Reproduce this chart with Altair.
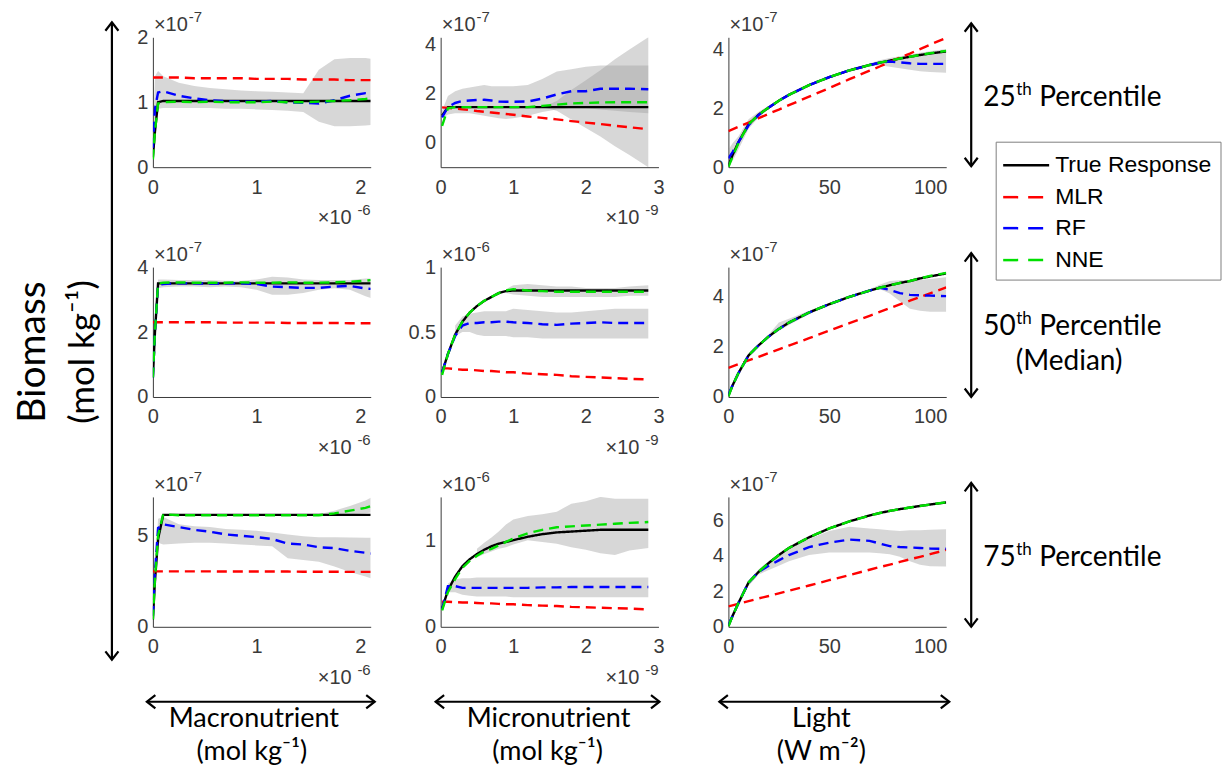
import altair as alt
import pandas as pd

SERIES = ["True Response", "MLR", "RF", "NNE"]
SERIES_COLORS = ["#000000", "#ff0000", "#0000ff", "#00e000"]
SERIES_DASH = [[1, 0], [10, 6], [10, 6], [10, 6]]

# ---------------- x grids ----------------
MACRO_X = [0, 0.02, 0.05, 0.1, 0.25, 0.4, 0.55, 0.7, 0.85, 1.0, 1.15, 1.3, 1.45, 1.6, 1.75, 1.9, 2.05, 2.1]
MICRO_X = [0.02, 0.1, 0.2, 0.3, 0.4, 0.5, 0.6, 0.7, 0.8, 0.9, 1.0, 1.2, 1.4, 1.6, 1.8, 2.0, 2.2, 2.4, 2.6, 2.86]
LIGHT_X = [0, 2, 5, 10, 15, 20, 25, 30, 40, 50, 60, 70, 75, 80, 85, 90, 95, 100, 108]

# ---------------- Macronutrient (x 1e-6), biomass x 1e-7 ----------------
M25_TRUE = [0.15, 0.55, 1.0, 1.02, 1.02, 1.02, 1.02, 1.02, 1.02, 1.02, 1.02, 1.02, 1.02, 1.02, 1.02, 1.02, 1.02, 1.02]
M25_MLR = [1.38, 1.38, 1.38, 1.38, 1.38, 1.37, 1.37, 1.37, 1.37, 1.36, 1.36, 1.36, 1.35, 1.35, 1.35, 1.34, 1.34, 1.34]
M25_RF = [0.3, 0.9, 1.15, 1.17, 1.1, 1.06, 1.03, 1.02, 1.01, 1.01, 1.02, 1.0, 0.99, 0.98, 1.03, 1.1, 1.14, 1.14]
M25_NNE = [0.12, 0.55, 0.98, 1.0, 1.01, 1.0, 1.01, 1.0, 1.0, 1.0, 1.01, 1.0, 1.0, 1.01, 1.02, 1.03, 1.05, 1.06]
M25_LO = [0.1, 0.5, 0.9, 0.91, 0.91, 0.91, 0.91, 0.9, 0.9, 0.89, 0.88, 0.87, 0.85, 0.7, 0.63, 0.63, 0.64, 0.65]
M25_HI = [0.4, 1.4, 1.48, 1.4, 1.3, 1.25, 1.22, 1.2, 1.18, 1.17, 1.16, 1.15, 1.14, 1.5, 1.66, 1.68, 1.68, 1.67]

M50_TRUE = [0.6, 2.0, 3.5, 3.5, 3.5, 3.5, 3.5, 3.5, 3.5, 3.5, 3.5, 3.5, 3.5, 3.5, 3.5, 3.5, 3.5, 3.5]
M50_MLR = [2.3, 2.3, 2.3, 2.3, 2.3, 2.3, 2.3, 2.29, 2.29, 2.29, 2.29, 2.28, 2.28, 2.28, 2.28, 2.27, 2.27, 2.27]
M50_RF = [0.6, 2.0, 3.45, 3.48, 3.5, 3.5, 3.49, 3.5, 3.5, 3.48, 3.4, 3.38, 3.36, 3.36, 3.4, 3.42, 3.34, 3.33]
M50_NNE = [0.6, 2.0, 3.5, 3.52, 3.53, 3.52, 3.52, 3.52, 3.53, 3.52, 3.52, 3.53, 3.52, 3.52, 3.53, 3.55, 3.58, 3.6]
M50_LO = [0.6, 2.0, 3.35, 3.38, 3.4, 3.4, 3.38, 3.4, 3.38, 3.3, 3.15, 3.15, 3.2, 3.3, 3.35, 3.3, 3.1, 3.05]
M50_HI = [0.6, 2.0, 3.62, 3.62, 3.6, 3.6, 3.6, 3.58, 3.58, 3.62, 3.7, 3.68, 3.62, 3.6, 3.6, 3.6, 3.65, 3.65]

M75_TRUE = [0.4, 2.5, 4.8, 6.12, 6.12, 6.12, 6.12, 6.12, 6.12, 6.12, 6.12, 6.12, 6.12, 6.12, 6.12, 6.12, 6.12, 6.12]
M75_MLR = [3.03, 3.03, 3.03, 3.03, 3.03, 3.03, 3.03, 3.02, 3.02, 3.02, 3.02, 3.02, 3.01, 3.01, 3.01, 3.0, 3.0, 3.0]
M75_RF = [0.6, 3.0, 5.4, 5.6, 5.45, 5.3, 5.2, 5.05, 4.98, 4.9, 4.8, 4.55, 4.5, 4.35, 4.3, 4.15, 4.05, 4.0]
M75_NNE = [0.4, 2.6, 5.0, 6.15, 6.1, 6.1, 6.1, 6.1, 6.1, 6.1, 6.1, 6.1, 6.1, 6.1, 6.2, 6.35, 6.5, 6.6]
M75_LO = [0.4, 2.5, 4.6, 4.5, 4.55, 4.6, 4.6, 4.55, 4.5, 4.45, 4.4, 3.75, 3.65, 3.55, 3.3, 3.0, 2.75, 2.65]
M75_HI = [0.6, 3.0, 5.9, 6.0, 5.6, 5.5, 5.45, 5.35, 5.3, 5.25, 5.15, 5.05, 4.95, 4.9, 4.9, 4.88, 4.87, 4.87]
M75_LO2 = [None, None, None, None, None, None, None, None, None, None, None, None, 6.1, 6.1, 6.12, 6.15, 6.2, 6.25]
M75_HI2 = [None, None, None, None, None, None, None, None, None, None, None, None, 6.1, 6.15, 6.35, 6.6, 6.9, 7.05]

# ---------------- Micronutrient (x 1e-9) ----------------
U25_TRUE = [1.1, 1.45, 1.45, 1.45, 1.45, 1.45, 1.45, 1.45, 1.45, 1.45, 1.45, 1.45, 1.45, 1.45, 1.45, 1.45, 1.45, 1.45, 1.45, 1.45]
U25_MLR = [1.44, 1.42, 1.39, 1.36, 1.33, 1.29, 1.26, 1.23, 1.2, 1.17, 1.14, 1.07, 1.01, 0.95, 0.88, 0.82, 0.76, 0.69, 0.63, 0.55]
U25_RF = [1.03, 1.45, 1.62, 1.7, 1.72, 1.74, 1.75, 1.72, 1.68, 1.67, 1.67, 1.68, 1.8, 1.97, 2.1, 2.1, 2.2, 2.2, 2.2, 2.18]
U25_NNE = [0.69, 1.4, 1.45, 1.45, 1.45, 1.45, 1.45, 1.45, 1.45, 1.45, 1.45, 1.45, 1.5, 1.55, 1.6, 1.62, 1.64, 1.65, 1.65, 1.65]
U25_LO = [1.0, 1.15, 1.2, 1.2, 1.2, 1.15, 1.1, 1.05, 1.0, 0.97, 1.0, 1.1, 1.25, 1.35, 1.4, 1.4, 1.35, 1.3, 1.25, 1.2]
U25_HI = [1.3, 1.9, 2.1, 2.2, 2.25, 2.3, 2.35, 2.3, 2.3, 2.3, 2.3, 2.35, 2.6, 2.9, 3.0, 3.1, 3.15, 3.15, 3.15, 3.15]
U25_LO2 = [None, None, None, None, None, None, None, None, None, None, None, None, 1.45, 1.3, 0.95, 0.6, 0.25, -0.15, -0.5, -1.0]
U25_HI2 = [None, None, None, None, None, None, None, None, None, None, None, None, 1.45, 1.7, 2.15, 2.55, 2.95, 3.4, 3.8, 4.3]

U50_TRUE = [0.19, 0.33, 0.48, 0.58, 0.65, 0.7, 0.74, 0.77, 0.8, 0.815, 0.82, 0.82, 0.82, 0.82, 0.82, 0.82, 0.82, 0.82, 0.82, 0.82]
U50_MLR = [0.22, 0.22, 0.215, 0.21, 0.21, 0.205, 0.2, 0.2, 0.195, 0.19, 0.19, 0.18, 0.175, 0.17, 0.16, 0.155, 0.15, 0.145, 0.14, 0.135]
U50_RF = [0.19, 0.33, 0.47, 0.55, 0.57, 0.57, 0.575, 0.575, 0.58, 0.58, 0.575, 0.57, 0.56, 0.555, 0.565, 0.57, 0.575, 0.57, 0.57, 0.57]
U50_NNE = [0.17, 0.33, 0.48, 0.58, 0.65, 0.7, 0.74, 0.77, 0.8, 0.82, 0.83, 0.82, 0.815, 0.81, 0.81, 0.81, 0.81, 0.81, 0.81, 0.81]
U50_LO = [None, None, 0.47, 0.5, 0.5, 0.48, 0.47, 0.47, 0.47, 0.47, 0.46, 0.46, 0.45, 0.45, 0.45, 0.45, 0.45, 0.45, 0.45, 0.45]
U50_HI = [None, None, 0.55, 0.62, 0.64, 0.65, 0.66, 0.66, 0.66, 0.66, 0.68, 0.67, 0.66, 0.65, 0.65, 0.66, 0.67, 0.68, 0.68, 0.68]
U50_LO2 = [None, None, None, None, None, None, None, None, None, 0.8, 0.79, 0.78, 0.77, 0.77, 0.77, 0.77, 0.77, 0.77, 0.78, 0.78]
U50_HI2 = [None, None, None, None, None, None, None, None, None, 0.83, 0.86, 0.87, 0.86, 0.85, 0.85, 0.84, 0.84, 0.84, 0.85, 0.86]

U75_TRUE = [0.21, 0.42, 0.58, 0.7, 0.78, 0.84, 0.89, 0.93, 0.96, 0.98, 1.0, 1.04, 1.07, 1.09, 1.1, 1.11, 1.12, 1.12, 1.12, 1.12]
U75_MLR = [0.29, 0.29, 0.285, 0.28, 0.28, 0.275, 0.27, 0.27, 0.265, 0.26, 0.26, 0.25, 0.245, 0.24, 0.23, 0.225, 0.22, 0.215, 0.21, 0.2]
U75_RF = [0.2, 0.47, 0.47, 0.45, 0.45, 0.45, 0.45, 0.45, 0.45, 0.45, 0.45, 0.45, 0.455, 0.455, 0.46, 0.46, 0.46, 0.46, 0.46, 0.46]
U75_NNE = [0.19, 0.4, 0.55, 0.68, 0.76, 0.82, 0.87, 0.9, 0.94, 0.98, 1.02, 1.08, 1.12, 1.15, 1.16, 1.17, 1.18, 1.19, 1.2, 1.21]
U75_LO = [None, 0.4, 0.4, 0.37, 0.36, 0.35, 0.35, 0.35, 0.35, 0.35, 0.34, 0.34, 0.34, 0.34, 0.34, 0.34, 0.34, 0.34, 0.34, 0.34]
U75_HI = [None, 0.5, 0.55, 0.56, 0.56, 0.57, 0.57, 0.57, 0.57, 0.57, 0.57, 0.57, 0.57, 0.57, 0.57, 0.57, 0.57, 0.57, 0.57, 0.57]
U75_LO2 = [None, None, None, None, None, 0.8, 0.84, 0.87, 0.9, 0.92, 0.95, 1.0, 0.98, 0.96, 0.92, 0.89, 0.85, 0.83, 0.88, 0.91]
U75_HI2 = [None, None, None, None, None, 0.9, 0.97, 1.03, 1.1, 1.18, 1.24, 1.28, 1.3, 1.33, 1.42, 1.45, 1.5, 1.48, 1.48, 1.48]

# ---------------- Light (W m-2) ----------------
L25_TRUE = [0.05, 0.4, 0.85, 1.45, 1.78, 2.02, 2.25, 2.45, 2.78, 3.05, 3.28, 3.46, 3.54, 3.61, 3.68, 3.74, 3.8, 3.85, 3.92]
L25_MLR = [1.22, 1.28, 1.37, 1.51, 1.66, 1.81, 1.95, 2.1, 2.39, 2.68, 2.98, 3.27, 3.41, 3.56, 3.71, 3.85, 4.0, 4.15, 4.38]
L25_RF = [0.3, 0.5, 0.85, 1.42, 1.77, 2.02, 2.25, 2.45, 2.78, 3.05, 3.28, 3.46, 3.54, 3.58, 3.55, 3.52, 3.5, 3.5, 3.5]
L25_NNE = [0.0, 0.35, 0.82, 1.45, 1.78, 2.02, 2.25, 2.45, 2.78, 3.05, 3.28, 3.46, 3.54, 3.61, 3.68, 3.74, 3.8, 3.86, 3.94]
L25_LO = [0.0, 0.2, 0.6, 1.3, 1.68, 1.97, 2.2, 2.4, 2.73, 3.0, 3.23, 3.41, 3.45, 3.4, 3.35, 3.3, 3.25, 3.22, 3.2]
L25_HI = [0.6, 0.8, 1.05, 1.62, 1.88, 2.08, 2.3, 2.5, 2.83, 3.1, 3.33, 3.51, 3.62, 3.7, 3.76, 3.82, 3.88, 3.93, 4.0]

L50_TRUE = [0.05, 0.45, 0.95, 1.65, 2.05, 2.4, 2.7, 2.95, 3.35, 3.68, 3.97, 4.22, 4.33, 4.43, 4.52, 4.6, 4.7, 4.78, 4.9]
L50_MLR = [1.15, 1.21, 1.3, 1.45, 1.59, 1.74, 1.89, 2.04, 2.33, 2.63, 2.93, 3.22, 3.37, 3.52, 3.67, 3.82, 3.96, 4.11, 4.35]
L50_RF = [0.1, 0.45, 0.95, 1.65, 2.05, 2.4, 2.7, 2.95, 3.35, 3.68, 3.97, 4.22, 4.33, 4.25, 4.12, 4.05, 4.03, 4.02, 4.0]
L50_NNE = [0.02, 0.45, 0.95, 1.65, 2.05, 2.4, 2.7, 2.95, 3.35, 3.68, 3.97, 4.22, 4.33, 4.43, 4.52, 4.6, 4.7, 4.8, 4.92]
L50_LO = [0.0, 0.4, 0.9, 1.6, 2.0, 2.35, 2.62, 2.85, 3.28, 3.63, 3.92, 4.17, 4.28, 4.1, 3.8, 3.5, 3.42, 3.38, 3.38]
L50_HI = [0.1, 0.5, 1.0, 1.7, 2.1, 2.48, 2.95, 3.1, 3.42, 3.73, 4.02, 4.27, 4.45, 4.6, 4.63, 4.63, 4.65, 4.68, 4.75]

L75_TRUE = [0.05, 0.6, 1.35, 2.5, 3.1, 3.6, 4.05, 4.45, 5.05, 5.55, 5.95, 6.28, 6.42, 6.54, 6.64, 6.73, 6.82, 6.9, 7.02]
L75_MLR = [1.15, 1.21, 1.3, 1.45, 1.6, 1.74, 1.89, 2.04, 2.33, 2.63, 2.92, 3.22, 3.37, 3.51, 3.66, 3.81, 3.95, 4.1, 4.34]
L75_RF = [0.1, 0.6, 1.35, 2.5, 3.1, 3.45, 3.75, 4.05, 4.5, 4.75, 4.92, 4.85, 4.7, 4.55, 4.5, 4.48, 4.45, 4.42, 4.4]
L75_NNE = [0.02, 0.6, 1.35, 2.5, 3.1, 3.6, 4.05, 4.45, 5.05, 5.55, 5.95, 6.28, 6.42, 6.54, 6.64, 6.73, 6.82, 6.9, 7.03]
L75_LO = [0.0, 0.45, 1.2, 2.3, 2.95, 3.2, 3.45, 3.7, 4.05, 4.2, 4.2, 4.2, 4.15, 4.1, 3.95, 3.7, 3.5, 3.42, 3.4]
L75_HI = [0.3, 0.75, 1.45, 2.6, 3.25, 3.7, 4.1, 4.45, 4.95, 5.4, 5.65, 5.55, 5.5, 5.45, 5.4, 5.45, 5.45, 5.47, 5.5]

# ---------------- layout / style ----------------
PANEL_W, PANEL_H = 218, 130
TICK_FONT = "Liberation Sans"
ANNOT_FONT = "Lato"
AXIS_COLOR = "#3a3a3a"
LEGEND_ROWS_Y = [128, 160, 191, 223]
LEGEND_DASH = [[1, 0], [15, 10], [15, 10], [15, 10]]

COLOR_SCALE = alt.Scale(domain=SERIES, range=SERIES_COLORS)
DASH_SCALE = alt.Scale(domain=SERIES, range=SERIES_DASH)
ONE = pd.DataFrame({"k": [0]})


def axis(values, orient):
    pad = 10 if orient == "x" else 5
    return alt.Axis(values=values, format="~f", grid=False, ticks=False, title=None,
                    labelFont=TICK_FONT, labelFontSize=20, labelColor=AXIS_COLOR,
                    labelFlush=False, labelOverlap=False, labelPadding=pad,
                    domainColor=AXIS_COLOR, domainWidth=1)


def text(t, x, y, size, font=ANNOT_FONT, color="black", align="center",
         baseline="middle", angle=0):
    return alt.Chart(pd.DataFrame({"t": [t]})).mark_text(
        align=align, baseline=baseline, fontSize=size, font=font, color=color, angle=angle
    ).encode(text="t:N", x=alt.value(x), y=alt.value(y))


def head(x, y, path):
    return alt.Chart(ONE).mark_point(
        shape=path, filled=False, color="black", strokeWidth=2.2, size=170,
        opacity=1, strokeJoin="miter"
    ).encode(x=alt.value(x), y=alt.value(y))


def v_arrow(x, y1, y2):
    shaft = alt.Chart(ONE).mark_rule(color="black", strokeWidth=2.2).encode(
        x=alt.value(x), y=alt.value(y1), y2=alt.value(y2))
    return [shaft, head(x, y1, "M-1,1.3L0,0L1,1.3"), head(x, y2, "M-1,-1.3L0,0L1,-1.3")]


def h_arrow(x1, x2, y):
    shaft = alt.Chart(ONE).mark_rule(color="black", strokeWidth=2.2).encode(
        x=alt.value(x1), x2=alt.value(x2), y=alt.value(y))
    return [shaft, head(x1, y, "M1.3,-1L0,0L1.3,1"), head(x2, y, "M-1.3,-1L0,0L-1.3,1")]


def exponent_y(exp):
    return [text("×10", 1, -6, 20, TICK_FONT, AXIS_COLOR, "left", "alphabetic"),
            text(exp, 36, -15, 15, TICK_FONT, AXIS_COLOR, "left", "alphabetic")]


def exponent_x(exp):
    return [text("×10", PANEL_W - 19, PANEL_H + 57, 20, TICK_FONT, AXIS_COLOR, "right", "alphabetic"),
            text(exp, PANEL_W, PANEL_H + 48, 15, TICK_FONT, AXIS_COLOR, "right", "alphabetic")]


def legend_layers():
    layers = [alt.Chart(ONE).mark_rect(fill="white", stroke="#808080", strokeWidth=1).encode(
        x=alt.value(268), x2=alt.value(493), y=alt.value(105), y2=alt.value(243))]
    for name, color, dash, y in zip(SERIES, SERIES_COLORS, LEGEND_DASH, LEGEND_ROWS_Y):
        layers.append(alt.Chart(ONE).mark_rule(color=color, strokeWidth=2.5, strokeDash=dash).encode(
            x=alt.value(275), x2=alt.value(321), y=alt.value(y)))
        layers.append(text(name, 327, y, 23, TICK_FONT, "black", "left"))
    return layers


def panel(xs, xdom, xticks, ydom, yticks, lines, bands, yexp, xexp, extras):
    xs_scale = alt.Scale(domain=xdom, nice=False, zero=False)
    ys_scale = alt.Scale(domain=ydom, nice=False, zero=False)
    X = alt.X("x:Q", scale=xs_scale, axis=axis(xticks, "x"))
    layers = []
    for lo, hi in bands:
        bdf = pd.DataFrame({"x": xs, "lo": lo, "hi": hi}).dropna()
        layers.append(alt.Chart(bdf).mark_area(color="#9a9a9a", opacity=0.4, clip=True).encode(
            x=X, y=alt.Y("lo:Q", scale=ys_scale, axis=axis(yticks, "y")), y2="hi:Q"))
    for name, vals in zip(SERIES, lines):
        ldf = pd.DataFrame({"x": xs, "y": vals, "series": name}).dropna()
        layers.append(alt.Chart(ldf).mark_line(strokeWidth=2.4, clip=True).encode(
            x=X, y=alt.Y("y:Q", scale=ys_scale, axis=axis(yticks, "y")),
            color=alt.Color("series:N", scale=COLOR_SCALE, legend=None),
            strokeDash=alt.StrokeDash("series:N", scale=DASH_SCALE, legend=None)))
    layers += exponent_y(yexp)
    if xexp:
        layers += exponent_x(xexp)
    layers += extras
    return alt.layer(*layers).properties(width=PANEL_W, height=PANEL_H)


def percentile_label(num, y_base):
    return [text(num, 255, y_base, 28, align="left", baseline="alphabetic"),
            text("th", 288, y_base - 11, 17, align="left", baseline="alphabetic"),
            text("Percentile", 311, y_base, 28, align="left", baseline="alphabetic")]


# annotation groups (pixel offsets relative to each panel's plot area)
anchor = [alt.Chart(ONE).mark_rule(opacity=0, strokeWidth=0).encode(
    x=alt.value(-145), x2=alt.value(-144), y=alt.value(-29))]
left_annot = (v_arrow(-41, -245, 393)
              + [text("Biomass", -120, 85, 39, angle=270),
                 text("(mol kg⁻¹)", -70, 85, 35, angle=270)])
right_1 = v_arrow(243, -14, 129) + percentile_label("25", 69) + legend_layers()
right_2 = v_arrow(243, -14, 130) + percentile_label("50", 68) + [text("(Median)", 341, 95, 28)]
right_3 = v_arrow(243, -14, 130) + percentile_label("75", 69)
bottom_1 = h_arrow(-6, 222, 205) + [text("Macronutrient", 101, 222, 27), text("(mol kg⁻¹)", 99, 255, 27)]
bottom_2 = h_arrow(-5, 219, 205) + [text("Micronutrient", 108, 222, 27), text("(mol kg⁻¹)", 107, 255, 27)]
bottom_3 = h_arrow(-9, 221, 205) + [text("Light", 93, 222, 27), text("(W m⁻²)", 93, 255, 27)]

panels = [
    panel(MACRO_X, [0, 2.1], [0, 1, 2], [0, 2], [0, 1, 2],
          [M25_TRUE, M25_MLR, M25_RF, M25_NNE], [(M25_LO, M25_HI)], "-7", "-6", anchor),
    panel(MICRO_X, [0, 3], [0, 1, 2, 3], [-1, 4.3], [0, 2, 4],
          [U25_TRUE, U25_MLR, U25_RF, U25_NNE], [(U25_LO, U25_HI), (U25_LO2, U25_HI2)], "-7", "-9", []),
    panel(LIGHT_X, [0, 108], [0, 50, 100], [0, 4.4], [0, 2, 4],
          [L25_TRUE, L25_MLR, L25_RF, L25_NNE], [(L25_LO, L25_HI)], "-7", None, right_1),
    panel(MACRO_X, [0, 2.1], [0, 1, 2], [0, 4], [0, 2, 4],
          [M50_TRUE, M50_MLR, M50_RF, M50_NNE], [(M50_LO, M50_HI)], "-7", "-6", left_annot),
    panel(MICRO_X, [0, 3], [0, 1, 2, 3], [0, 1], [0, 0.5, 1],
          [U50_TRUE, U50_MLR, U50_RF, U50_NNE], [(U50_LO, U50_HI), (U50_LO2, U50_HI2)], "-6", "-9", []),
    panel(LIGHT_X, [0, 108], [0, 50, 100], [0, 5.15], [0, 2, 4],
          [L50_TRUE, L50_MLR, L50_RF, L50_NNE], [(L50_LO, L50_HI)], "-7", None, right_2),
    panel(MACRO_X, [0, 2.1], [0, 1, 2], [0, 7.1], [0, 5],
          [M75_TRUE, M75_MLR, M75_RF, M75_NNE], [(M75_LO, M75_HI), (M75_LO2, M75_HI2)], "-7", "-6", bottom_1),
    panel(MICRO_X, [0, 3], [0, 1, 2, 3], [0, 1.5], [0, 1],
          [U75_TRUE, U75_MLR, U75_RF, U75_NNE], [(U75_LO, U75_HI), (U75_LO2, U75_HI2)], "-6", "-9", bottom_2),
    panel(LIGHT_X, [0, 108], [0, 50, 100], [0, 7.33], [0, 2, 4, 6],
          [L75_TRUE, L75_MLR, L75_RF, L75_NNE], [(L75_LO, L75_HI)], "-7", None, bottom_3 + right_3),
]

chart = alt.concat(
    *panels, columns=3, spacing={"row": 100, "column": 70}, bounds="flush"
).properties(padding=0).configure_view(stroke=None)

chart.save("out.html", embed_options={"renderer": "svg", "actions": False})
